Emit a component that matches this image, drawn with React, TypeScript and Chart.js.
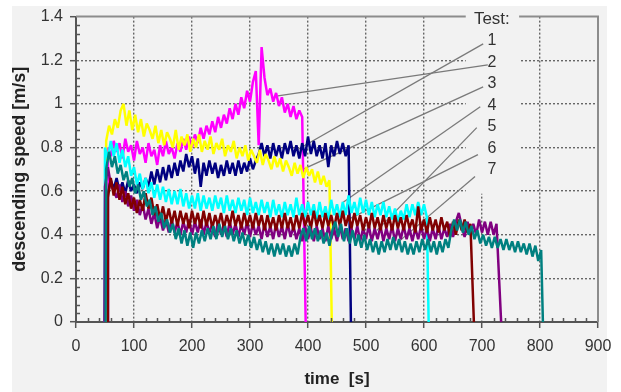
import { useEffect, useRef } from 'react';
import { Chart, registerables } from 'chart.js';

Chart.register(...registerables);

const FONT = '"Liberation Sans", Arial, Helvetica, sans-serif';
const BG = '#f2f2f2';
const STEP = 5; // sampling interval of the typed values [s]

// axis tick labels
const xTickLabels = ['0', '100', '200', '300', '400', '500', '600', '700', '800', '900'];
const yTickLabels = ['0', '0.2', '0.4', '0.6', '0.8', '1', '1.2', '1.4'];

// legend
const legendTitle = 'Test:';
const legendLabels = ['1', '2', '3', '4', '5', '6', '7'];

// Test 1 (navy)
const navyStart = 55;
const navyEnd = 474;
const navyValues = [
  0.59, 0.65, 0.61, 0.66, 0.60, 0.64, 0.59, 0.65, 0.60, 0.63,
  0.59, 0.64, 0.61, 0.66, 0.62, 0.69, 0.63, 0.70, 0.64, 0.71,
  0.65, 0.72, 0.66, 0.73, 0.67, 0.74, 0.69, 0.77, 0.71, 0.76,
  0.68, 0.75, 0.62, 0.73, 0.67, 0.74, 0.68, 0.73, 0.66, 0.72,
  0.67, 0.74, 0.68, 0.73, 0.67, 0.74, 0.68, 0.73, 0.69, 0.75,
  0.70, 0.74, 0.77, 0.82, 0.76, 0.81, 0.75, 0.82, 0.76, 0.81,
  0.75, 0.82, 0.77, 0.83, 0.76, 0.81, 0.75, 0.82, 0.76, 0.85,
  0.77, 0.83, 0.76, 0.81, 0.75, 0.82, 0.71, 0.81, 0.76, 0.83,
  0.77, 0.82, 0.76, 0.81,
];

// Test 2 (magenta)
const magentaStart = 55;
const magentaEnd = 396;
const magentaValues = [
  0.80, 0.76, 0.83, 0.78, 0.82, 0.75, 0.84, 0.78, 0.81, 0.74,
  0.83, 0.77, 0.80, 0.73, 0.82, 0.76, 0.79, 0.72, 0.81, 0.76,
  0.83, 0.77, 0.80, 0.75, 0.82, 0.78, 0.84, 0.79, 0.85, 0.80,
  0.86, 0.82, 0.89, 0.84, 0.90, 0.86, 0.92, 0.87, 0.94, 0.89,
  0.95, 0.91, 0.98, 0.93, 1.00, 0.95, 1.03, 0.98, 1.06, 1.01,
  1.10, 1.15, 0.81, 1.26, 1.12, 1.04, 1.07, 1.01, 1.05, 0.99,
  1.03, 0.96, 1.00, 0.94, 0.99, 0.93, 0.97, 0.94,
];

// Test 3 (yellow)
const yellowStart = 52;
const yellowEnd = 441;
const yellowValues = [
  0.83, 0.90, 0.86, 0.93, 0.89, 0.97, 1.00, 0.90, 0.97, 0.88,
  0.95, 0.87, 0.93, 0.85, 0.91, 0.88, 0.84, 0.90, 0.82, 0.88,
  0.81, 0.87, 0.84, 0.80, 0.88, 0.79, 0.85, 0.81, 0.86, 0.78,
  0.84, 0.80, 0.86, 0.78, 0.83, 0.79, 0.85, 0.77, 0.82, 0.79,
  0.84, 0.76, 0.81, 0.78, 0.83, 0.75, 0.80, 0.76, 0.81, 0.74,
  0.79, 0.76, 0.73, 0.79, 0.72, 0.77, 0.74, 0.70, 0.76, 0.71,
  0.75, 0.69, 0.74, 0.71, 0.67, 0.73, 0.68, 0.72, 0.66, 0.71,
  0.67, 0.70, 0.64, 0.69, 0.63, 0.67, 0.62, 0.65,
];

// Test 4 (cyan)
const cyanStart = 50;
const cyanEnd = 608;
const cyanValues = [
  0.80, 0.75, 0.83, 0.76, 0.82, 0.73, 0.79, 0.71, 0.76, 0.67,
  0.71, 0.63, 0.68, 0.61, 0.66, 0.59, 0.64, 0.57, 0.63, 0.56,
  0.62, 0.55, 0.61, 0.54, 0.60, 0.54, 0.61, 0.53, 0.59, 0.52,
  0.58, 0.52, 0.59, 0.51, 0.58, 0.52, 0.57, 0.51, 0.58, 0.52,
  0.57, 0.50, 0.58, 0.51, 0.56, 0.50, 0.57, 0.51, 0.56, 0.49,
  0.57, 0.50, 0.55, 0.49, 0.56, 0.50, 0.55, 0.48, 0.56, 0.49,
  0.54, 0.48, 0.55, 0.49, 0.54, 0.48, 0.57, 0.49, 0.54, 0.48,
  0.55, 0.49, 0.54, 0.47, 0.55, 0.48, 0.53, 0.47, 0.56, 0.49,
  0.54, 0.48, 0.55, 0.49, 0.58, 0.50, 0.55, 0.49, 0.57, 0.50,
  0.56, 0.49, 0.55, 0.48, 0.54, 0.49, 0.55, 0.48, 0.53, 0.47,
  0.52, 0.46, 0.51, 0.47, 0.54, 0.48, 0.54, 0.49, 0.55, 0.49,
  0.54, 0.48,
];

// Test 5 (purple)
const purpleStart = 50;
const purpleEnd = 733;
const purpleValues = [
  0.62, 0.71, 0.63, 0.60, 0.57, 0.63, 0.55, 0.60, 0.53, 0.58,
  0.51, 0.56, 0.49, 0.54, 0.47, 0.52, 0.45, 0.50, 0.43, 0.48,
  0.42, 0.47, 0.41, 0.47, 0.41, 0.46, 0.40, 0.46, 0.41, 0.47,
  0.40, 0.46, 0.41, 0.47, 0.40, 0.46, 0.41, 0.45, 0.39, 0.46,
  0.40, 0.45, 0.39, 0.46, 0.40, 0.45, 0.39, 0.45, 0.40, 0.46,
  0.39, 0.45, 0.40, 0.44, 0.38, 0.45, 0.39, 0.44, 0.38, 0.45,
  0.39, 0.44, 0.38, 0.45, 0.39, 0.44, 0.38, 0.43, 0.37, 0.44,
  0.38, 0.43, 0.37, 0.44, 0.38, 0.43, 0.37, 0.44, 0.38, 0.43,
  0.37, 0.44, 0.38, 0.43, 0.37, 0.43, 0.38, 0.44, 0.37, 0.43,
  0.38, 0.44, 0.37, 0.43, 0.38, 0.44, 0.37, 0.43, 0.38, 0.44,
  0.37, 0.43, 0.38, 0.44, 0.38, 0.43, 0.37, 0.43, 0.38, 0.44,
  0.38, 0.43, 0.37, 0.43, 0.38, 0.44, 0.38, 0.43, 0.39, 0.45,
  0.39, 0.46, 0.50, 0.44, 0.39, 0.46, 0.40, 0.45, 0.40, 0.47,
  0.41, 0.46, 0.40, 0.46, 0.40, 0.45,
];

// Test 6 (dark red)
const darkredStart = 55;
const darkredEnd = 686;
const darkredValues = [
  0.57, 0.66, 0.58, 0.64, 0.56, 0.62, 0.54, 0.59, 0.52, 0.57,
  0.50, 0.56, 0.51, 0.59, 0.52, 0.57, 0.49, 0.54, 0.47, 0.53,
  0.46, 0.52, 0.45, 0.51, 0.44, 0.51, 0.45, 0.50, 0.43, 0.51,
  0.45, 0.50, 0.43, 0.51, 0.44, 0.50, 0.43, 0.49, 0.44, 0.50,
  0.43, 0.49, 0.44, 0.51, 0.44, 0.49, 0.43, 0.50, 0.44, 0.49,
  0.43, 0.50, 0.44, 0.49, 0.42, 0.49, 0.43, 0.48, 0.42, 0.49,
  0.43, 0.50, 0.43, 0.48, 0.42, 0.49, 0.43, 0.50, 0.44, 0.49,
  0.43, 0.51, 0.44, 0.49, 0.43, 0.50, 0.44, 0.49, 0.43, 0.50,
  0.44, 0.51, 0.44, 0.49, 0.43, 0.50, 0.44, 0.49, 0.42, 0.48,
  0.43, 0.50, 0.43, 0.48, 0.42, 0.49, 0.43, 0.48, 0.42, 0.49,
  0.43, 0.48, 0.42, 0.49, 0.43, 0.47, 0.41, 0.53, 0.42, 0.47,
  0.41, 0.48, 0.42, 0.47, 0.41, 0.48, 0.42, 0.46, 0.39, 0.46,
  0.40, 0.47, 0.42, 0.47, 0.41, 0.45,
];

// Test 7 (teal)
const tealStart = 52;
const tealEnd = 805;
const tealValues = [
  0.70, 0.78, 0.71, 0.76, 0.68, 0.72, 0.65, 0.69, 0.62, 0.66,
  0.59, 0.63, 0.56, 0.60, 0.53, 0.56, 0.49, 0.53, 0.46, 0.50,
  0.43, 0.47, 0.41, 0.45, 0.38, 0.43, 0.36, 0.42, 0.35, 0.41,
  0.34, 0.41, 0.36, 0.42, 0.37, 0.43, 0.38, 0.44, 0.38, 0.45,
  0.39, 0.44, 0.38, 0.43, 0.37, 0.42, 0.36, 0.41, 0.35, 0.40,
  0.34, 0.39, 0.33, 0.38, 0.32, 0.37, 0.31, 0.36, 0.30, 0.36,
  0.31, 0.36, 0.30, 0.35, 0.30, 0.36, 0.31, 0.39, 0.43, 0.37,
  0.44, 0.38, 0.43, 0.37, 0.42, 0.36, 0.41, 0.35, 0.42, 0.46,
  0.39, 0.45, 0.37, 0.43, 0.36, 0.42, 0.35, 0.40, 0.34, 0.40,
  0.33, 0.38, 0.32, 0.37, 0.31, 0.37, 0.32, 0.38, 0.33, 0.39,
  0.33, 0.38, 0.32, 0.37, 0.31, 0.36, 0.31, 0.37, 0.32, 0.38,
  0.33, 0.38, 0.32, 0.37, 0.31, 0.37, 0.32, 0.38, 0.34, 0.42,
  0.47, 0.42, 0.47, 0.41, 0.46, 0.40, 0.44, 0.38, 0.42, 0.36,
  0.40, 0.35, 0.39, 0.34, 0.39, 0.34, 0.38, 0.33, 0.38, 0.33,
  0.37, 0.32, 0.37, 0.32, 0.36, 0.31, 0.36, 0.30, 0.35, 0.28,
  0.33,
];

// leader lines of the labels, in data units [time, speed]
const leaderFrom = [
  [702, 1.275], [710, 1.179], [702, 1.078], [697, 0.987], [691, 0.891], [693, 0.767], [688, 0.667],
];
const leaderTo = [
  [379, 0.786], [348, 1.037], [391, 0.70], [460, 0.548], [519, 0.42], [472, 0.474], [555, 0.365],
];
const legendLabelT = 717;
const legendBoxT = [672, 764];
const legendBoxBottom = 0.588;

function buildSeries(start: number, values: number[], end: number) {
  const pts: { x: number; y: number }[] = [{ x: start - 1, y: 0 }];
  values.forEach((v, i) => pts.push({ x: start + i * STEP, y: v }));
  const lastT = start + (values.length - 1) * STEP;
  pts.push({ x: Math.max(end, lastT + 1), y: 0 });
  return pts;
}

const decorPlugin = {
  id: 'decor',
  beforeDatasetsDraw(chart: any) {
    const { ctx, chartArea: a, scales } = chart;
    const xs = scales.x;
    const ys = scales.y;
    ctx.save();
    const bx1 = xs.getPixelForValue(legendBoxT[0]);
    const bx2 = xs.getPixelForValue(legendBoxT[1]);
    const by2 = ys.getPixelForValue(legendBoxBottom);
    ctx.fillStyle = BG;
    ctx.fillRect(bx1, a.top - 1, bx2 - bx1, by2 - a.top + 1);

    ctx.strokeStyle = '#7a7a7a';
    ctx.lineWidth = 1.3;
    leaderFrom.forEach((f, i) => {
      const t = leaderTo[i];
      ctx.beginPath();
      ctx.moveTo(xs.getPixelForValue(f[0]), ys.getPixelForValue(f[1]));
      ctx.lineTo(xs.getPixelForValue(t[0]), ys.getPixelForValue(t[1]));
      ctx.stroke();
    });

    ctx.strokeStyle = '#8c8c8c';
    ctx.lineWidth = 2;
    ctx.beginPath();
    ctx.moveTo(a.left, a.top);
    ctx.lineTo(bx1, a.top);
    ctx.moveTo(bx2, a.top);
    ctx.lineTo(a.right, a.top);
    ctx.lineTo(a.right, a.bottom);
    ctx.stroke();

    const lx = xs.getPixelForValue(legendLabelT);
    ctx.fillStyle = '#333';
    ctx.textAlign = 'center';
    ctx.textBaseline = 'alphabetic';
    ctx.font = `17px ${FONT}`;
    ctx.fillText(legendTitle, lx, a.top + 7);
    ctx.font = `16px ${FONT}`;
    legendLabels.forEach((l, i) => ctx.fillText(l, lx, a.top + 28.5 + i * 21.5));
    ctx.restore();
  },
  afterDraw(chart: any) {
    const { ctx, chartArea: a, scales } = chart;
    const xs = scales.x;
    const ys = scales.y;
    ctx.save();
    ctx.strokeStyle = '#555';
    ctx.lineWidth = 1.5;
    ctx.beginPath();
    for (let v = 20; v < 900; v += 20) {
      if (v % 100 === 0) continue;
      const px = Math.round(xs.getPixelForValue(v)) + 0.5;
      ctx.moveTo(px, a.bottom);
      ctx.lineTo(px, a.bottom - 4);
    }
    for (let k = 1; k < 35; k++) {
      if (k % 5 === 0) continue;
      const py = Math.round(ys.getPixelForValue(k * 0.04)) + 0.5;
      ctx.moveTo(a.left, py);
      ctx.lineTo(a.left + 4, py);
    }
    ctx.stroke();
    ctx.restore();
  },
};

export default function App() {
  const ref = useRef<HTMLCanvasElement | null>(null);
  useEffect(() => {
    if (!ref.current) return;
    const line = (label: string, color: string, data: any, order: number) => ({
      label,
      data,
      borderColor: color,
      backgroundColor: color,
      borderWidth: 2.5,
      borderJoinStyle: 'bevel',
      pointRadius: 0,
      tension: 0,
      fill: false,
      order,
    });
    const chart = new Chart(ref.current, {
      type: 'line',
      data: {
        datasets: [
          line('7', '#008080', buildSeries(tealStart, tealValues, tealEnd), 0),
          line('6', '#800000', buildSeries(darkredStart, darkredValues, darkredEnd), 1),
          line('5', '#800080', buildSeries(purpleStart, purpleValues, purpleEnd), 2),
          line('4', '#00ffff', buildSeries(cyanStart, cyanValues, cyanEnd), 3),
          line('3', '#ffff00', buildSeries(yellowStart, yellowValues, yellowEnd), 4),
          line('1', '#000080', buildSeries(navyStart, navyValues, navyEnd), 5),
          line('2', '#ff00ff', buildSeries(magentaStart, magentaValues, magentaEnd), 6),
        ],
      },
      options: {
        animation: false,
        responsive: false,
        events: [],
        parsing: false as any,
        normalized: true,
        layout: { padding: { top: 16, right: 23, left: 0, bottom: 0 } },
        plugins: { legend: { display: false }, tooltip: { enabled: false }, title: { display: false } },
        scales: {
          x: {
            type: 'linear',
            min: 0,
            max: 900,
            afterFit: (s: any) => { s.height = 70; },
            ticks: {
              stepSize: 100,
              autoSkip: false,
              maxRotation: 0,
              padding: 9,
              color: '#333',
              font: { family: FONT, size: 16 },
              callback: (_v: any, i: number) => xTickLabels[i] ?? '',
            },
            grid: {
              color: (c: any) => (c.tick && c.tick.value >= 900 ? 'rgba(0,0,0,0)' : '#666'),
              lineWidth: 1.4,
              tickLength: 6,
              tickColor: '#555',
              tickWidth: 1.5,
            },
            border: { display: true, color: '#555', width: 2, dash: [2, 2] },
            title: {
              display: true,
              text: 'time  [s]',
              color: '#222',
              font: { family: FONT, size: 17, weight: 'bold' },
              padding: { top: 0, bottom: 2 },
            },
          },
          y: {
            type: 'linear',
            min: 0,
            max: 1.4,
            afterFit: (s: any) => { s.width = 76; },
            ticks: {
              stepSize: 0.2,
              autoSkip: false,
              padding: 7,
              color: '#333',
              font: { family: FONT, size: 16 },
              callback: (_v: any, i: number) => yTickLabels[i] ?? '',
            },
            grid: {
              color: (c: any) => (c.tick && c.tick.value >= 1.39 ? 'rgba(0,0,0,0)' : '#666'),
              lineWidth: 1.4,
              tickLength: 6,
              tickColor: '#555',
              tickWidth: 1.5,
            },
            border: { display: true, color: '#555', width: 2, dash: [2, 2] },
            title: {
              display: true,
              text: 'descending speed [m/s]',
              color: '#222',
              font: { family: FONT, size: 18, weight: 'bold' },
              padding: { top: 9, bottom: 0 },
            },
          },
        },
      } as any,
      plugins: [decorPlugin],
    });
    return () => chart.destroy();
  }, []);

  return (
    <div style={{ position: 'fixed', left: 0, top: 0, width: 621, height: 392, background: '#ffffff', overflow: 'hidden' }}>
      <div style={{ position: 'absolute', left: 12, top: 6, width: 595, height: 386, background: BG }} />
      <canvas ref={ref} width={621} height={392} style={{ position: 'absolute', left: 0, top: 0 }} />
    </div>
  );
}
